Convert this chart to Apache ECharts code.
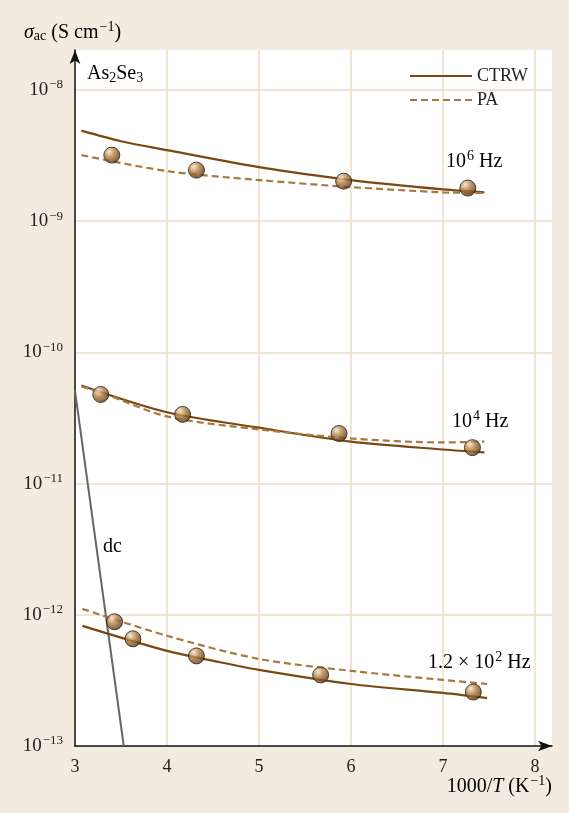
<!DOCTYPE html>
<html><head><meta charset="utf-8">
<script src="https://cdn.jsdelivr.net/npm/echarts@6/dist/echarts.min.js"></script>
<style>html,body{margin:0;padding:0;background:#f3ebe0}#c{width:569px;height:813px}</style>
</head><body><div id="c"></div>
<script>
const xTicks = [3, 4, 5, 6, 7, 8];
const yTicks = [1e-13, 1e-12, 1e-11, 1e-10, 1e-9, 1e-8];

const ctrw6 = [[3.07,4.9e-9],[3.5,4.07e-9],[4,3.48e-9],[5,2.58e-9],[6,2.06e-9],[7,1.75e-9],[7.45,1.66e-9]];
const pa6 = [[3.07,3.19e-9],[4,2.41e-9],[5,2.06e-9],[6,1.82e-9],[7,1.66e-9],[7.45,1.64e-9]];
const pts6 = [[3.40,3.19e-9],[4.32,2.45e-9],[5.92,2.02e-9],[7.27,1.79e-9]];

const ctrw4 = [[3.07,5.6e-11],[4,3.5e-11],[5,2.67e-11],[6,2.09e-11],[7,1.82e-11],[7.45,1.73e-11]];
const pa4 = [[3.07,5.5e-11],[3.3,4.9e-11],[4,3.25e-11],[5,2.59e-11],[6,2.21e-11],[7,2.06e-11],[7.45,2.09e-11]];
const pts4 = [[3.28,4.78e-11],[4.17,3.37e-11],[5.87,2.41e-11],[7.32,1.88e-11]];

const ctrw2 = [[3.08,8.24e-13],[4,5.31e-13],[4.5,4.46e-13],[5,3.8e-13],[6,2.97e-13],[7,2.54e-13],[7.48,2.32e-13]];
const pa2 = [[3.08,1.11e-12],[4,6.92e-13],[5,4.61e-13],[6,3.74e-13],[7,3.19e-13],[7.48,2.97e-13]];
const pts2 = [[3.43,8.85e-13],[3.63,6.56e-13],[4.32,4.86e-13],[5.67,3.48e-13],[7.33,2.58e-13]];

const dc = [[3.0,5.1e-11],[3.53,1e-13]];

const FONT = '"Liberation Serif", "DejaVu Serif", serif';
const SOLID = '#7a4810', DASH = '#a8793f';
const chart = echarts.init(document.getElementById('c'));
const ball = new echarts.graphic.RadialGradient(0.35, 0.3, 0.75, [
  {offset: 0, color: '#f6e2c2'}, {offset: 0.45, color: '#ad7a40'}, {offset: 1, color: '#573008'}]);
function mkRich(fs, ss) {
  const main = {fontSize: fs, fontFamily: FONT, color: '#222'};
  return {
    m: main,
    i: Object.assign({}, main, {fontStyle: 'italic'}),
    s: {fontSize: ss, fontFamily: FONT, color: '#222', padding: [0, 0, Math.round(fs * 0.55), 1]},
    b: {fontSize: ss, fontFamily: FONT, color: '#222', padding: [Math.round(fs * 0.4), 0, 0, 0]}
  };
}
const richA = mkRich(20, 14);
const richT = mkRich(19, 13);

function lineS(name, data, dashed) {
  return {type: 'line', name, data, smooth: 0.3, symbol: 'none', z: 3,
    lineStyle: {color: dashed ? DASH : SOLID, width: 2.2, type: dashed ? [7,4] : 'solid'},
    itemStyle: {color: dashed ? DASH : SOLID}};
}
function ptsS(data) {
  return {type: 'scatter', data, symbolSize: 16, z: 5,
    itemStyle: {color: ball, borderColor: '#222', borderWidth: 1}};
}
function txt(pos, t) {
  return Object.assign({type: 'text', style: {text: t, rich: richA, font: '20px ' + FONT}}, pos);
}

chart.setOption({
  backgroundColor: '#f3ebe0',
  animation: false,
  grid: {left: 75, right: 17, top: 50, bottom: 67, show: true, backgroundColor: '#fff', borderWidth: 0},
  legend: {orient: 'vertical', left: 404, top: 62, itemWidth: 62, itemHeight: 14, itemGap: 6,
    itemStyle: {opacity: 0},
    data: ['CTRW', 'PA'], textStyle: {fontFamily: FONT, fontSize: 18, color: '#222'}},
  xAxis: {type: 'value', min: 3, max: 8.185, interval: 1,
    axisLine: {lineStyle: {color: '#111', width: 1.5}, symbol: ['none', 'arrow'], symbolSize: [8, 14]},
    axisTick: {show: false},
    splitLine: {show: true, showMinLine: false, showMaxLine: false, lineStyle: {color: '#ecdcc8', width: 1.5}},
    axisLabel: {showMaxLabel: false, margin: 12, fontFamily: FONT, fontSize: 18, color: '#222',
      formatter: v => xTicks.includes(v) ? String(v) : ''}},
  yAxis: {type: 'log', min: 1e-13, max: Math.pow(10, -7.695), logBase: 10,
    axisLine: {lineStyle: {color: '#111', width: 1.5}, symbol: ['none', 'arrow'], symbolSize: [8, 14]},
    axisTick: {show: false},
    splitLine: {show: true, showMinLine: false, showMaxLine: false, lineStyle: {color: '#ecdcc8', width: 1.5}},
    axisLabel: {showMaxLabel: false, margin: 12, rich: richT,
      formatter: v => {
        const e = Math.round(Math.log10(v));
        if (!yTicks.some(t => Math.abs(Math.log10(t) - Math.log10(v)) < 1e-6)) return '';
        return '{m|10}{s|\u2212' + (-e) + '}';
      }}},
  series: [
    lineS('CTRW', ctrw6, false), lineS('PA', pa6, true), ptsS(pts6),
    lineS('CTRW', ctrw4, false), lineS('PA', pa4, true), ptsS(pts4),
    lineS('CTRW', ctrw2, false), lineS('PA', pa2, true), ptsS(pts2),
    {type: 'line', data: dc, symbol: 'none', z: 2, lineStyle: {color: '#666', width: 2}}
  ],
  graphic: [
    txt({left: 24, top: 20}, '{i|σ}{b|ac}{m| (S cm}{s|\u22121}{m|)}'),
    txt({right: 17, top: 774}, '{m|1000/}{i|T}{m| (K}{s|\u22121}{m|)}'),
    txt({left: 87, top: 64}, '{m|As}{b|2}{m|Se}{b|3}'),
    txt({left: 446, top: 149}, '{m|10}{s|6}{m| Hz}'),
    txt({left: 452, top: 409}, '{m|10}{s|4}{m| Hz}'),
    txt({left: 428, top: 650}, '{m|1.2 × 10}{s|2}{m| Hz}'),
    txt({left: 103, top: 537}, '{m|dc}')
  ]
});
</script></body></html>
